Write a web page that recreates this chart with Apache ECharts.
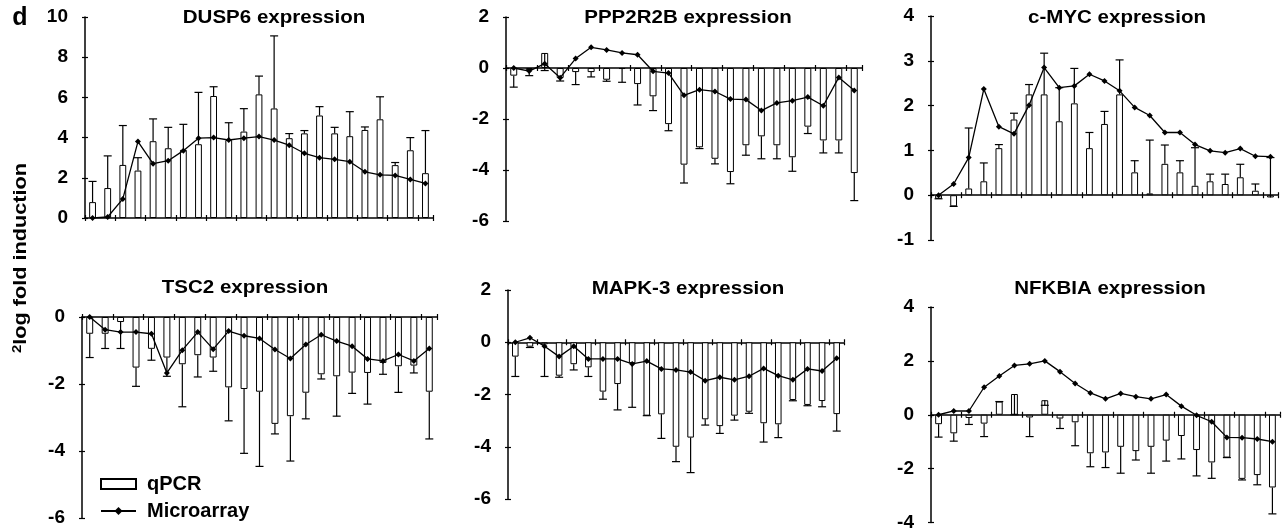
<!DOCTYPE html>
<html>
<head>
<meta charset="utf-8">
<title>qPCR vs Microarray</title>
<script src="https://cdn.jsdelivr.net/npm/echarts@6/dist/echarts.min.js"></script>
<style>
  html, body { margin: 0; padding: 0; background: #fff; }
  #main { width: 1285px; height: 532px; }
</style>
</head>
<body>
<div id="main"></div>
<script>
// 23 samples per gene, no labels on the x axis
var categories = ['1','2','3','4','5','6','7','8','9','10','11','12','13','14','15','16','17','18','19','20','21','22','23'];

// DUSP6
var dusp6Qpcr  = [0.79, 1.49, 2.64, 2.36, 3.82, 3.47, 3.39, 3.67, 6.07, 3.88, 4.30, 6.15, 5.45, 3.97, 4.21, 5.10, 4.21, 4.07, 4.38, 4.91, 2.63, 3.37, 2.23];
var dusp6Err   = [1.82, 3.09, 4.60, 3.00, 4.93, 4.51, 4.66, 6.25, 6.53, 4.74, 5.44, 7.06, 9.06, 4.20, 4.35, 5.54, 4.51, 5.29, 4.53, 6.03, 2.76, 4.00, 4.35];
var dusp6Array = [0, 0.05, 0.95, 3.80, 2.70, 2.85, 3.35, 3.97, 4.00, 3.88, 3.97, 4.05, 3.88, 3.62, 3.22, 3.00, 2.92, 2.80, 2.30, 2.15, 2.12, 1.92, 1.72];

// PPP2R2B
var ppp2r2bQpcr  = [-0.30, -0.08, 0.59, -0.39, -0.16, -0.16, -0.46, -0.04, -0.63, -1.11, -2.20, -3.79, -3.11, -3.56, -4.08, -3.03, -2.68, -3.03, -3.50, -2.30, -2.84, -2.84, -4.12];
var ppp2r2bErr   = [-0.75, -0.30, -0.10, -0.51, -0.65, -0.35, -0.52, -0.56, -1.45, -1.67, -2.46, -4.51, -3.16, -3.76, -4.54, -3.42, -3.56, -3.56, -4.05, -2.57, -3.33, -3.33, -5.20];
var ppp2r2bArray = [0, -0.12, 0.17, -0.38, 0.37, 0.81, 0.71, 0.59, 0.52, -0.13, -0.20, -1.07, -0.85, -0.92, -1.22, -1.24, -1.67, -1.37, -1.28, -1.14, -1.48, -0.37, -0.88];

// c-MYC
var cmycQpcr  = [-0.08, -0.25, 0.15, 0.31, 1.05, 1.69, 2.25, 2.25, 1.65, 2.05, 1.05, 1.59, 2.25, 0.51, 0.04, 0.70, 0.51, 0.21, 0.31, 0.25, 0.40, 0.10, -0.05];
var cmycErr   = [-0.08, -0.25, 1.50, 0.72, 1.13, 1.83, 2.47, 3.17, 2.40, 2.83, 1.40, 1.87, 3.02, 0.77, 1.23, 1.12, 0.77, 1.06, 0.47, 0.47, 0.69, 0.25, 0.84];
var cmycArray = [0, 0.25, 0.84, 2.37, 1.53, 1.37, 2.01, 2.85, 2.40, 2.44, 2.70, 2.55, 2.33, 1.96, 1.78, 1.40, 1.40, 1.13, 0.99, 0.95, 1.04, 0.87, 0.86];

// TSC2
var tsc2Qpcr  = [-0.50, -0.50, -0.15, -1.51, -0.95, -1.21, -1.41, -1.14, -1.21, -2.10, -2.15, -2.23, -3.19, -2.96, -2.26, -1.71, -1.77, -1.66, -1.67, -1.37, -1.47, -1.45, -2.23];
var tsc2Err   = [-1.21, -0.94, -0.94, -2.07, -1.29, -1.77, -2.68, -1.79, -1.62, -3.10, -4.07, -4.46, -3.49, -4.30, -3.04, -1.85, -2.96, -2.28, -2.60, -1.71, -2.25, -1.67, -3.64];
var tsc2Array = [0, -0.38, -0.45, -0.45, -0.50, -1.67, -0.99, -0.45, -0.96, -0.42, -0.56, -0.64, -0.97, -1.24, -0.82, -0.53, -0.72, -0.87, -1.25, -1.31, -1.12, -1.31, -0.94];

// MAPK-3
var mapk3Qpcr  = [-0.55, -0.17, -0.08, -1.28, -0.84, -0.96, -1.89, -1.60, -0.80, -2.81, -2.76, -4.00, -3.65, -2.95, -3.21, -2.81, -2.66, -3.10, -3.14, -2.21, -2.40, -2.25, -2.75];
var mapk3Err   = [-1.31, -0.20, -1.31, -1.34, -1.06, -1.31, -2.18, -2.59, -2.49, -2.81, -3.68, -4.57, -4.99, -3.17, -3.49, -2.98, -2.72, -3.82, -3.65, -2.24, -2.43, -2.47, -3.40];
var mapk3Array = [0, 0.17, -0.15, -0.55, -0.15, -0.64, -0.64, -0.64, -0.83, -0.72, -1.02, -1.06, -1.14, -1.47, -1.34, -1.44, -1.30, -1.00, -1.28, -1.44, -1.02, -1.10, -0.61];

// NFKBIA
var nfkbiaQpcr  = [-0.35, -0.69, -0.12, -0.33, 0.49, 0.77, -0.10, 0.54, -0.14, -0.28, -1.43, -1.40, -1.19, -1.35, -1.19, -0.96, -0.79, -1.31, -1.77, -1.59, -2.38, -2.24, -2.70];
var nfkbiaErr   = [-0.83, -0.98, -0.36, -0.81, 0.49, 0.00, -0.81, 0.35, -0.51, -1.15, -1.93, -1.96, -2.17, -1.68, -2.17, -1.72, -1.64, -2.27, -2.36, -1.59, -2.42, -2.60, -3.68];
var nfkbiaArray = [0, 0.14, 0.14, 1.02, 1.44, 1.83, 1.89, 2.00, 1.60, 1.16, 0.81, 0.59, 0.79, 0.67, 0.59, 0.75, 0.32, -0.02, -0.26, -0.84, -0.85, -0.90, -1.00];

var FONT = "'Liberation Sans', Arial, Helvetica, sans-serif";
var STRETCH = 1.14; // the original lettering is a bit wider than Arial

// layout of the six panels (grid box + title centre)
var panels = [
    {title: 'DUSP6 expression',   qpcr: dusp6Qpcr,   err: dusp6Err,   arr: dusp6Array,   min: 0,  max: 10, step: 2, box: {left: 85,  top: 17,  width: 348, height: 201}, tx: 274,  ty: 18},
    {title: 'PPP2R2B expression', qpcr: ppp2r2bQpcr, err: ppp2r2bErr, arr: ppp2r2bArray, min: -6, max: 2,  step: 2, box: {left: 506, top: 17,  width: 356, height: 204}, tx: 688,  ty: 18},
    {title: 'c-MYC expression',   qpcr: cmycQpcr,    err: cmycErr,    arr: cmycArray,    min: -1, max: 4,  step: 1, box: {left: 931, top: 16,  width: 347, height: 224}, tx: 1117, ty: 18},
    {title: 'TSC2 expression',    qpcr: tsc2Qpcr,    err: tsc2Err,    arr: tsc2Array,    min: -6, max: 0,  step: 2, box: {left: 82,  top: 317, width: 355, height: 201}, tx: 245,  ty: 288},
    {title: 'MAPK-3 expression',  qpcr: mapk3Qpcr,   err: mapk3Err,   arr: mapk3Array,   min: -6, max: 2,  step: 2, box: {left: 508, top: 290, width: 336, height: 209}, tx: 688,  ty: 289},
    {title: 'NFKBIA expression',  qpcr: nfkbiaQpcr,  err: nfkbiaErr,  arr: nfkbiaArray,  min: -4, max: 4,  step: 2, box: {left: 931, top: 307, width: 349, height: 216}, tx: 1110, ty: 289}
];

// error bar: line from bar end to error end, with a short cap
function renderErr(params, api) {
    var x = api.value(0);
    var p0 = api.coord([x, api.value(1)]);
    var p1 = api.coord([x, api.value(2)]);
    var st = {stroke: '#000', lineWidth: 1.2};
    return {
        type: 'group',
        children: [
            {type: 'line', shape: {x1: p0[0], y1: p0[1], x2: p1[0], y2: p1[1]}, style: st},
            {type: 'line', shape: {x1: p1[0] - 4, y1: p1[1], x2: p1[0] + 4, y2: p1[1]}, style: st}
        ]
    };
}

var grids = [], xAxes = [], yAxes = [], series = [], graphics = [];
var tick = {show: true, length: 3, lineStyle: {color: '#000', width: 1.2}};

panels.forEach(function (p, i) {
    grids.push(p.box);
    // two x axes so ticks cross the zero line (one down, one up)
    xAxes.push({
        type: 'category', gridIndex: i, data: categories, boundaryGap: true,
        axisLine: {onZero: true, lineStyle: {color: '#000', width: 1.5}},
        axisTick: tick,
        axisLabel: {show: false}
    });
    xAxes.push({
        type: 'category', gridIndex: i, data: categories, boundaryGap: true, position: 'top',
        axisLine: {show: false, onZero: true},
        axisTick: tick,
        axisLabel: {show: false}
    });
    yAxes.push({
        type: 'value', gridIndex: i, min: p.min, max: p.max, interval: p.step,
        splitLine: {show: false},
        axisLine: {show: true, lineStyle: {color: '#000', width: 1.5}},
        axisTick: tick,
        axisLabel: {color: '#000', fontSize: 19, fontWeight: 'bold', fontFamily: FONT, margin: 17}
    });
    yAxes.push({
        type: 'value', gridIndex: i, min: p.min, max: p.max, interval: p.step, position: 'right',
        offset: -p.box.width,
        splitLine: {show: false},
        axisLine: {show: false},
        axisTick: tick,
        axisLabel: {show: false}
    });

    var errData = p.qpcr.map(function (v, k) { return [k, v, p.err[k]]; });

    series.push({
        name: 'qPCR', type: 'bar', xAxisIndex: 2 * i, yAxisIndex: 2 * i,
        data: p.qpcr, barWidth: '45%',
        itemStyle: {color: '#fff', borderColor: '#000', borderWidth: 1},
        z: 2
    });
    series.push({
        name: 'qPCR error', type: 'custom', xAxisIndex: 2 * i, yAxisIndex: 2 * i,
        data: errData, renderItem: renderErr, encode: {x: 0, y: 1},
        z: 3
    });
    series.push({
        name: 'Microarray', type: 'line', xAxisIndex: 2 * i, yAxisIndex: 2 * i,
        data: p.arr, symbol: 'diamond', symbolSize: 6,
        lineStyle: {color: '#000', width: 1.3},
        itemStyle: {color: '#000'},
        z: 4
    });

    graphics.push({
        type: 'text', x: p.tx, y: p.ty, scaleX: STRETCH,
        style: {text: p.title, font: 'bold 18px ' + FONT, fill: '#000', textAlign: 'center', textVerticalAlign: 'middle'}
    });
});

// panel letter + shared y-axis label
graphics.push({
    type: 'text', x: 20, y: 18,
    style: {text: 'd', font: 'bold 25px ' + FONT, fill: '#000', textAlign: 'center', textVerticalAlign: 'middle'}
});
graphics.push({
    type: 'text', x: 21, y: 258, rotation: Math.PI / 2, scaleX: STRETCH,
    style: {
        text: '{s|2}{t|log fold induction}',
        textAlign: 'center', textVerticalAlign: 'middle',
        rich: {
            s: {fontSize: 13, fontWeight: 'bold', fontFamily: FONT, fill: '#000', verticalAlign: 'top', lineHeight: 20},
            t: {fontSize: 19, fontWeight: 'bold', fontFamily: FONT, fill: '#000', lineHeight: 20}
        }
    }
});

var myChart = echarts.init(document.getElementById('main'));
var option = {
    animation: false,
    backgroundColor: '#fff',
    grid: grids,
    xAxis: xAxes,
    yAxis: yAxes,
    legend: {
        data: [{name: 'qPCR', icon: 'rect'}, {name: 'Microarray'}],
        orient: 'vertical', left: 100, top: 474, padding: 0,
        itemWidth: 35, itemHeight: 10, itemGap: 7,
        textStyle: {color: '#000', fontSize: 20, fontWeight: 'bold', fontFamily: FONT, padding: [0, 0, 0, 6]}
    },
    graphic: graphics,
    series: series
};
myChart.setOption(option);

window.addEventListener('resize', function () {
    myChart.resize();
});
</script>
</body>
</html>
